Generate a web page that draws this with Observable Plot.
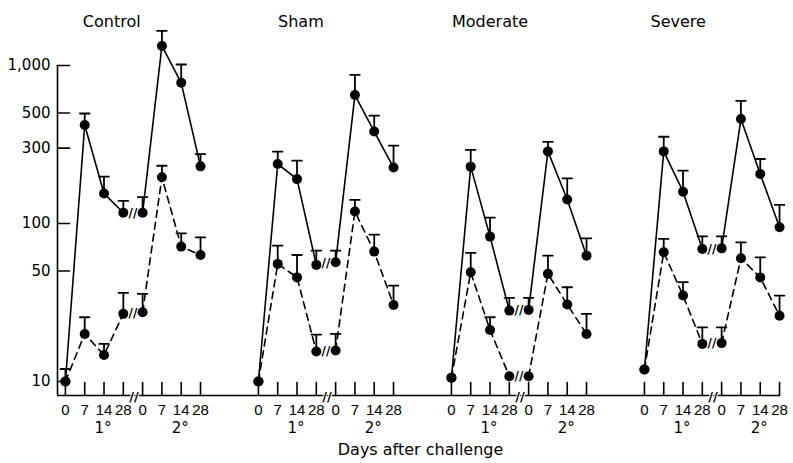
<!DOCTYPE html>
<html><head><meta charset="utf-8">
<script src="https://cdn.jsdelivr.net/npm/d3@7"></script>
<script src="https://cdn.jsdelivr.net/npm/@observablehq/plot@0.6"></script>
<style>body{margin:0;background:#fff;} #chart svg{display:block;background:#fff;}</style>
</head><body><div id="chart"></div>
<script>
// ---- data ----
const groups = ["Control", "Sham", "Moderate", "Severe"];
const dayLabels = ["0", "7", "14", "28", "0", "7", "14", "28"];
const phaseLabels = ["1°", "2°"];
const yTickValues = [10, 50, 100, 300, 500, 1000];
const axisTitle = "Days after challenge";

// day 0 (shared start of both curves)
const day0Mean = [10.0, 10.0, 10.55, 11.9];
const day0Err = [12.0, null, null, null];

// solid curve: 1° d7, d14, d28, 2° d0, d7, d14, d28
const solidMean = [
  [420, 155, 117, 117, 1330, 777, 230],
  [238, 191, 54.7, 56.8, 650, 382, 226],
  [229, 82.6, 28.1, 28.4, 286, 142, 62.6],
  [286, 159, 69.0, 69.6, 458, 206, 94.6]
];
const solidErr = [
  [497, 198, 139, 147, 1656, 1015, 275],
  [285, 250, 67.3, 67.3, 873, 481, 311],
  [292, 109, 33.8, 33.8, 329, 193, 80.6],
  [354, 216, 83, 83, 598, 256, 131]
];
// dashed curve
const dashedMean = [
  [20.0, 14.7, 26.8, 27.4, 196, 71.4, 63.2],
  [55.5, 45.6, 15.5, 15.7, 119, 66.4, 30.5],
  [49.1, 21.2, 10.8, 10.8, 48.0, 30.7, 20.0],
  [65.7, 35.0, 17.3, 17.5, 60.2, 45.6, 26.1]
];
const dashedErr = [
  [25.5, 17.3, 36.4, 35.9, 232, 86.6, 81.7],
  [72.4, 63.2, 19.8, 20.0, 141, 85, 40.5],
  [65.1, 25.5, null, null, 62.6, 39.5, 26.8],
  [79.9, 42.5, 22.0, 22.0, 76, 61.1, 35.0]
];

// ---- layout ----
const panelStep = 10;
const xDomain = [-0.41, 37.05];
const yDomain = [8.155, 1000];
const titleOffsets = [2.4, 2.2, 2.0, 1.75];
const font = "DejaVu Sans";
const tickFont = "Liberation Sans";

// ---- build records ----
const records = [];
groups.forEach((g, gi) => {
  [["solid", solidMean, solidErr], ["dashed", dashedMean, dashedErr]].forEach(([s, means, errs]) => {
    const vals = [day0Mean[gi], ...means[gi]];
    const es = [s === "solid" ? day0Err[gi] : null, ...errs[gi]];
    vals.forEach((v, pos) => {
      records.push({
        group: g, series: s, pos,
        x: gi * panelStep + pos,
        value: v, err: es[pos],
        key: `${g}-${s}-${pos <= 3 ? 1 : 2}`
      });
    });
  });
});

const xTicks = [];
groups.forEach((g, gi) => dayLabels.forEach((d, i) => xTicks.push({x: gi * panelStep + i, label: d})));
const phaseMarks = [];
groups.forEach((g, gi) => phaseLabels.forEach((p, i) => phaseMarks.push({x: gi * panelStep + 1.95 + 4 * i, label: p})));
const titles = groups.map((g, gi) => ({x: gi * panelStep + titleOffsets[gi], label: g}));

const breaks = [];
groups.forEach((g, gi) => {
  breaks.push({x: gi * panelStep + 3.5, y: Math.sqrt(solidMean[gi][2] * solidMean[gi][3])});
  breaks.push({x: gi * panelStep + 3.5, y: Math.sqrt(dashedMean[gi][2] * dashedMean[gi][3])});
});
const axisBreaks = groups.map((g, gi) => ({x: gi * panelStep + 3.55}));

const lineShape = {draw(ctx, l) { ctx.moveTo(0, 0); ctx.lineTo(0, -l); }};
const capShape = {draw(ctx) { ctx.moveTo(-4.8, 0); ctx.lineTo(4.8, 0); }};

const chart = Plot.plot({
  width: 793, height: 463,
  marginLeft: 57, marginRight: 13, marginTop: 65, marginBottom: 68,
  style: {fontFamily: font, color: "black", background: "white"},
  x: {domain: xDomain, axis: null},
  y: {type: "log", domain: yDomain, axis: null},
  marks: [
    Plot.ruleX([xDomain[0]], {strokeWidth: 1.6}),
    Plot.ruleY([yDomain[0]], {strokeWidth: 1.6}),
    Plot.vector(yTickValues, {x: xDomain[0], y: d => d, length: 12, rotate: 90, anchor: "start", shape: lineShape, strokeWidth: 1.6}),
    Plot.text(yTickValues, {x: xDomain[0], y: d => d, text: d => d3.format(",")(d), textAnchor: "end", dx: -7, fontSize: 15}),
    Plot.vector(xTicks, {x: "x", y: yDomain[0], length: 13, anchor: "start", shape: lineShape, strokeWidth: 1.6}),
    Plot.text(xTicks, {x: "x", y: yDomain[0], text: "label", dy: 15, fontSize: 15, fontFamily: tickFont}),
    Plot.text(phaseMarks, {x: "x", y: yDomain[0], text: "label", dy: 33, fontSize: 15}),
    Plot.text(axisBreaks, {x: "x", y: yDomain[0], text: () => "//", dy: 1, fontSize: 13, fontWeight: "bold", fill: "black", stroke: "white", strokeWidth: 2, paintOrder: "stroke"}),
    Plot.text([axisTitle], {frameAnchor: "bottom", x: () => 18.4, text: d => d, dy: 59, fontSize: 16}),
    Plot.text(titles, {x: "x", frameAnchor: "top", text: "label", dy: -50, fontSize: 16}),
    Plot.line(records.filter(d => d.series === "solid"), {x: "x", y: "value", z: "key", strokeWidth: 1.6}),
    Plot.line(records.filter(d => d.series === "dashed"), {x: "x", y: "value", z: "key", strokeWidth: 1.6, strokeDasharray: "7,5"}),
    Plot.ruleX(records.filter(d => d.err != null), {x: "x", y1: "value", y2: "err", strokeWidth: 1.8}),
    Plot.vector(records.filter(d => d.err != null), {x: "x", y: "err", length: 1, anchor: "start", shape: capShape, strokeWidth: 1.8}),
    Plot.dot(records, {x: "x", y: "value", r: 5, fill: "black"}),
    Plot.text(breaks, {x: "x", y: "y", text: () => "//", fontSize: 12, fontWeight: "bold"})
  ]
});
document.getElementById("chart").appendChild(chart);
</script>
</body></html>
